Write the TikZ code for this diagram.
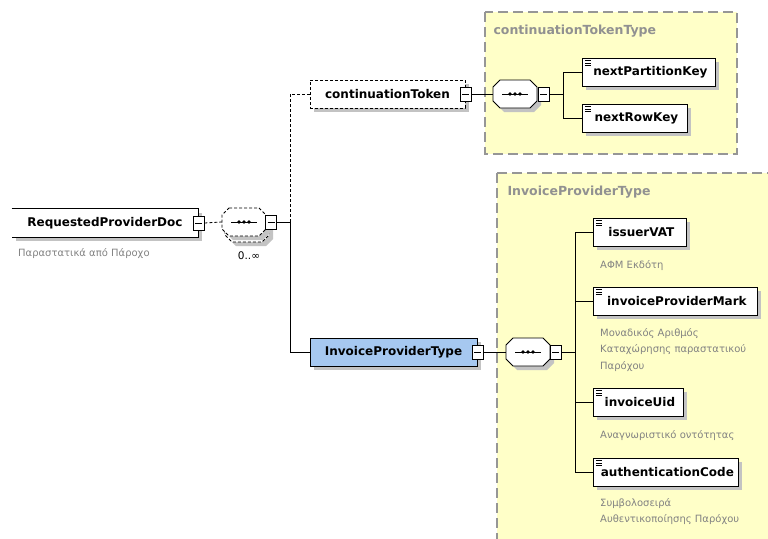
\documentclass[tikz,border=0pt]{standalone}
\usepackage{fontspec}
\setmainfont{DejaVu Sans}
\usetikzlibrary{shadows}

\definecolor{typefill}{RGB}{255,255,200}
\definecolor{typeline}{RGB}{150,150,150}
\definecolor{typetext}{RGB}{145,145,145}
\definecolor{descgray}{RGB}{130,130,130}
\definecolor{boxblue}{RGB}{166,200,240}
\definecolor{shadowgray}{RGB}{195,195,195}

% sequence compositor outline: #1 centre, #2 line options
\newcommand{\seqoutline}[2]{%
  \fill[shadowgray, shift={#1}, shift={(4,4)}]
    (-15,-14) -- (15,-14) -- (22,-7) -- (22,7) -- (15,14) -- (-15,14) -- (-22,7) -- (-22,-7) -- cycle;
  \draw[fill=white, line width=0.8pt, shift={#1}, #2]
    (-15,-14) -- (15,-14) -- (22,-7) -- (22,7) -- (15,14) -- (-15,14) -- (-22,7) -- (-22,-7) -- cycle;
}

\tikzset{
  boxshadow/.style={drop shadow={shadow xshift=4pt, shadow yshift=-4pt, fill=shadowgray, opacity=1}},
  elem/.style={draw, fill=white, line width=0.8pt, minimum height=28pt, inner xsep=4pt,
    font=\fontsize{12}{14}\selectfont\bfseries, boxshadow},
  leaf/.style={elem, anchor=west,
    path picture={
      \foreach \dy in {2.5,4.8,7.1}
        \draw[black, line width=0.35pt] ([shift={(2.5pt,-\dy pt)}]path picture bounding box.north west) -- ++(6.5pt,0);
    }},
  minus/.style={draw, fill=white, line width=0.8pt, minimum width=11pt, minimum height=14pt, inner sep=0pt,
    path picture={
      \draw[black, line width=0.8pt] ([xshift=-3.5pt]path picture bounding box.center) -- ([xshift=3.5pt]path picture bounding box.center);
    }},
  seq/.style={minimum width=44pt, minimum height=28pt, inner sep=0pt,
    path picture={
      \draw[black, line width=0.8pt] ([xshift=-13pt]path picture bounding box.center) -- ([xshift=13pt]path picture bounding box.center);
      \foreach \dx in {-5,0,5}
        \fill[black] ([xshift=\dx pt]path picture bounding box.center) circle[radius=1.9pt];
    }},
  typearea/.style={draw=typeline, fill=typefill, line width=1.2pt, dash pattern=on 10pt off 5pt},
  typelabel/.style={anchor=west, text=typetext, font=\fontsize{12.5}{14}\selectfont\bfseries},
  desc/.style={anchor=north west, align=left, text=descgray, inner sep=0pt, font=\fontsize{10}{16.5}\selectfont},
  link/.style={line width=0.8pt},
  optional/.style={dash pattern=on 3pt off 2pt}
}

\begin{document}
\begin{tikzpicture}[x=1pt,y=-1pt]
\useasboundingbox (0,0) rectangle (768,538);

% complex types
\draw[typearea] (485,12) rectangle (737,154);
\node[typelabel] (tokenType) at (490,31) {continuationTokenType};
\draw[typearea] (497,173) rectangle (790,560);
\node[typelabel] (providerType) at (504,192) {InvoiceProviderType};

% root element
\node[elem, draw=none, minimum width=186pt] (doc) at (105,223) {RequestedProviderDoc};
\draw[line width=1.2pt] (doc.north west) -- (doc.north east) -- (doc.south east) -- (doc.south west);
\node[desc] (docDesc) at (18,248) {Παραστατικά από Πάροχο};
\node[minus] (docMinus) at (doc.east) {};
\seqoutline{(247,228)}{optional}
\seqoutline{(244,222)}{optional}
\node[seq] (docSeq) at (244,222) {};
\node[minus] (docSeqMinus) at (271,222) {};
\node[font=\fontsize{10.5}{12}\selectfont] (docCount) at (249,256) {0..∞};
\coordinate (docFork) at (290,222);
\draw[link, optional] (docMinus.east) -- (docSeq.west);
\draw[link] (docSeqMinus.east) -- (docFork);

% continuationToken
\node[elem, optional, minimum width=155pt] (token) at (387.5,94) {continuationToken};
\node[minus] (tokenMinus) at (token.east) {};
\draw[link, optional] (token.west) -| (docFork);
\seqoutline{(515,94)}{}
\node[seq] (tokenSeq) at (515,94) {};
\node[minus] (tokenSeqMinus) at (543.5,94) {};
\coordinate (tokenFork) at (563,94);
\draw[link] (tokenMinus.east) -- (tokenSeq.west);
\draw[link] (tokenSeqMinus.east) -- (tokenFork);
\node[leaf, minimum width=133pt] (partitionKey) at (582,72) {\hspace{3pt}nextPartitionKey};
\node[leaf, minimum width=105pt] (rowKey) at (582,118) {\hspace{3pt}nextRowKey};
\draw[link] (partitionKey.west) -| (tokenFork);
\draw[link] (rowKey.west) -| (tokenFork);

% InvoiceProviderType
\node[elem, fill=boxblue, minimum width=167pt] (provider) at (393.5,352) {InvoiceProviderType};
\node[minus] (providerMinus) at (provider.east) {};
\draw[link] (provider.west) -| (docFork);
\seqoutline{(528,352)}{}
\node[seq] (providerSeq) at (528,352) {};
\node[minus] (providerSeqMinus) at (555.5,352) {};
\coordinate (providerFork) at (575,352);
\draw[link] (providerMinus.east) -- (providerSeq.west);
\draw[link] (providerSeqMinus.east) -- (providerFork);

\node[leaf, minimum width=93pt] (issuer) at (593,232) {\hspace{3pt}issuerVAT};
\node[desc] (issuerDesc) at (600,260) {ΑΦΜ Εκδότη};
\node[leaf, minimum width=164pt] (mark) at (593,301) {\hspace{3pt}invoiceProviderMark};
\node[desc] (markDesc) at (600,328) {Μοναδικός Αριθμός\\Καταχώρησης παραστατικού\\Παρόχου};
\node[leaf, minimum width=90pt] (uid) at (593,402) {\hspace{3pt}invoiceUid};
\node[desc] (uidDesc) at (600,430) {Αναγνωριστικό οντότητας};
\node[leaf, minimum width=145pt] (authCode) at (593,472) {\hspace{3pt}authenticationCode};
\node[desc] (authDesc) at (600,498) {Συμβολοσειρά\\Αυθεντικοποίησης Παρόχου};
\draw[link] (issuer.west) -| (providerFork);
\draw[link] (mark.west) -| (providerFork);
\draw[link] (uid.west) -| (providerFork);
\draw[link] (authCode.west) -| (providerFork);
\end{tikzpicture}
\end{document}
